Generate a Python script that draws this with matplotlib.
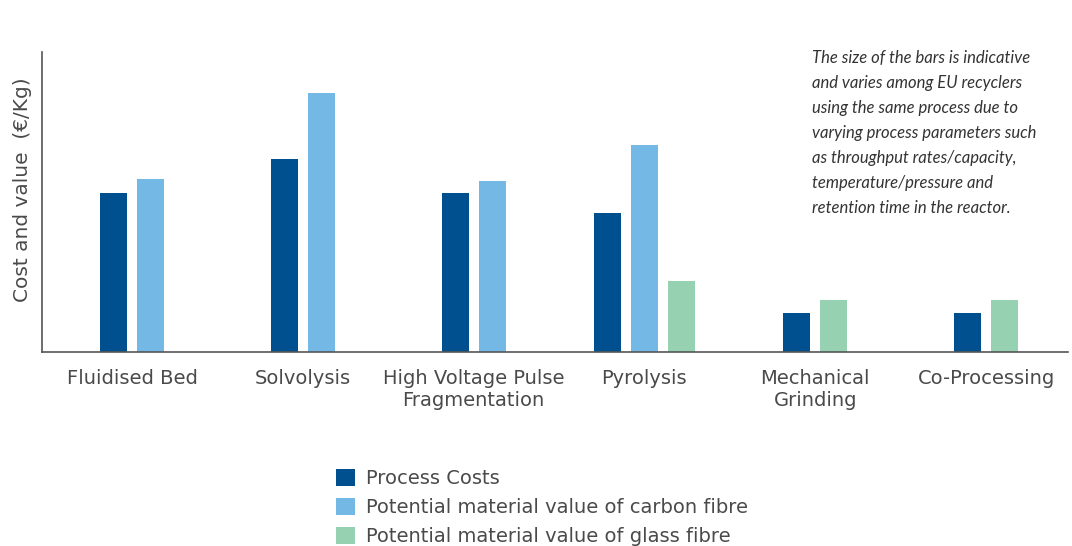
import matplotlib.pyplot as plt
from matplotlib.patches import Patch
import numpy as np

# categories and bar heights (relative units, no scale given in the source)
categories = ['Fluidised Bed', 'Solvolysis', 'High Voltage Pulse\nFragmentation',
              'Pyrolysis', 'Mechanical\nGrinding', 'Co-Processing']
process_costs = [15.9, 19.3, 15.9, 13.9, 3.9, 3.9]
carbon_value = [17.3, 25.9, 17.1, 20.7, None, None]
glass_value = [None, None, None, 7.1, 5.2, 5.2]

series_labels = ['Process Costs',
                 'Potential material value of carbon fibre',
                 'Potential material value of glass fibre']
colors = ['#00508f', '#74b9e6', '#96d2b1']

note = ("The size of the bars is indicative\n"
        "and varies among EU recyclers\n"
        "using the same process due to\n"
        "varying process parameters such\n"
        "as throughput rates/capacity,\n"
        "temperature/pressure and\n"
        "retention time in the reactor.")

plt.rcParams['font.family'] = ['DejaVu Sans']

fig = plt.figure(figsize=(10.72, 5.46), dpi=100)
ax = fig.add_axes([42 / 1072, 1 - 352 / 546, (1068 - 42) / 1072, 300 / 546])

x = np.arange(len(categories))
bar_w = 0.158
step = 0.217
all_series = [process_costs, carbon_value, glass_value]

for i in range(len(categories)):
    present = [(k, s[i]) for k, s in enumerate(all_series) if s[i] is not None]
    n = len(present)
    for j, (k, v) in enumerate(present):
        off = (j - (n - 1) / 2) * step
        ax.bar(x[i] + off, v, width=bar_w, color=colors[k], linewidth=0)

ax.set_xlim(-0.527, 5.48)
ax.set_ylim(0, 30)
ax.set_yticks([])
ax.set_xticks(x)
ax.set_xticklabels(categories, fontsize=14.0, color='#4a4a4a', linespacing=1.2)
ax.tick_params(axis='x', length=0, pad=12)
for s in ['top', 'right']:
    ax.spines[s].set_visible(False)
for s in ['left', 'bottom']:
    ax.spines[s].set_color('#555555')
    ax.spines[s].set_linewidth(1.2)

ax.set_ylabel('Cost and value  (\u20ac/Kg)', fontsize=14.5, color='#4a4a4a')
ax.yaxis.set_label_coords(-0.0098, 0.54)

fig.text(812 / 1072, 1 - 50 / 546, note, fontsize=12.0, style='italic', color='#333333',
         va='top', ha='left', linespacing=1.69, family=['Lato', 'DejaVu Sans'])

handles = [Patch(facecolor=c, edgecolor='none') for c in colors]
fig.legend(handles, series_labels, loc='upper left', bbox_to_anchor=(318 / 1072, 1 - 451 / 546),
           frameon=False, fontsize=14.0, handlelength=1.0, handleheight=1.0,
           handletextpad=0.55, labelspacing=0.5, labelcolor='#4a4a4a')

plt.savefig('out.png', dpi=100)
